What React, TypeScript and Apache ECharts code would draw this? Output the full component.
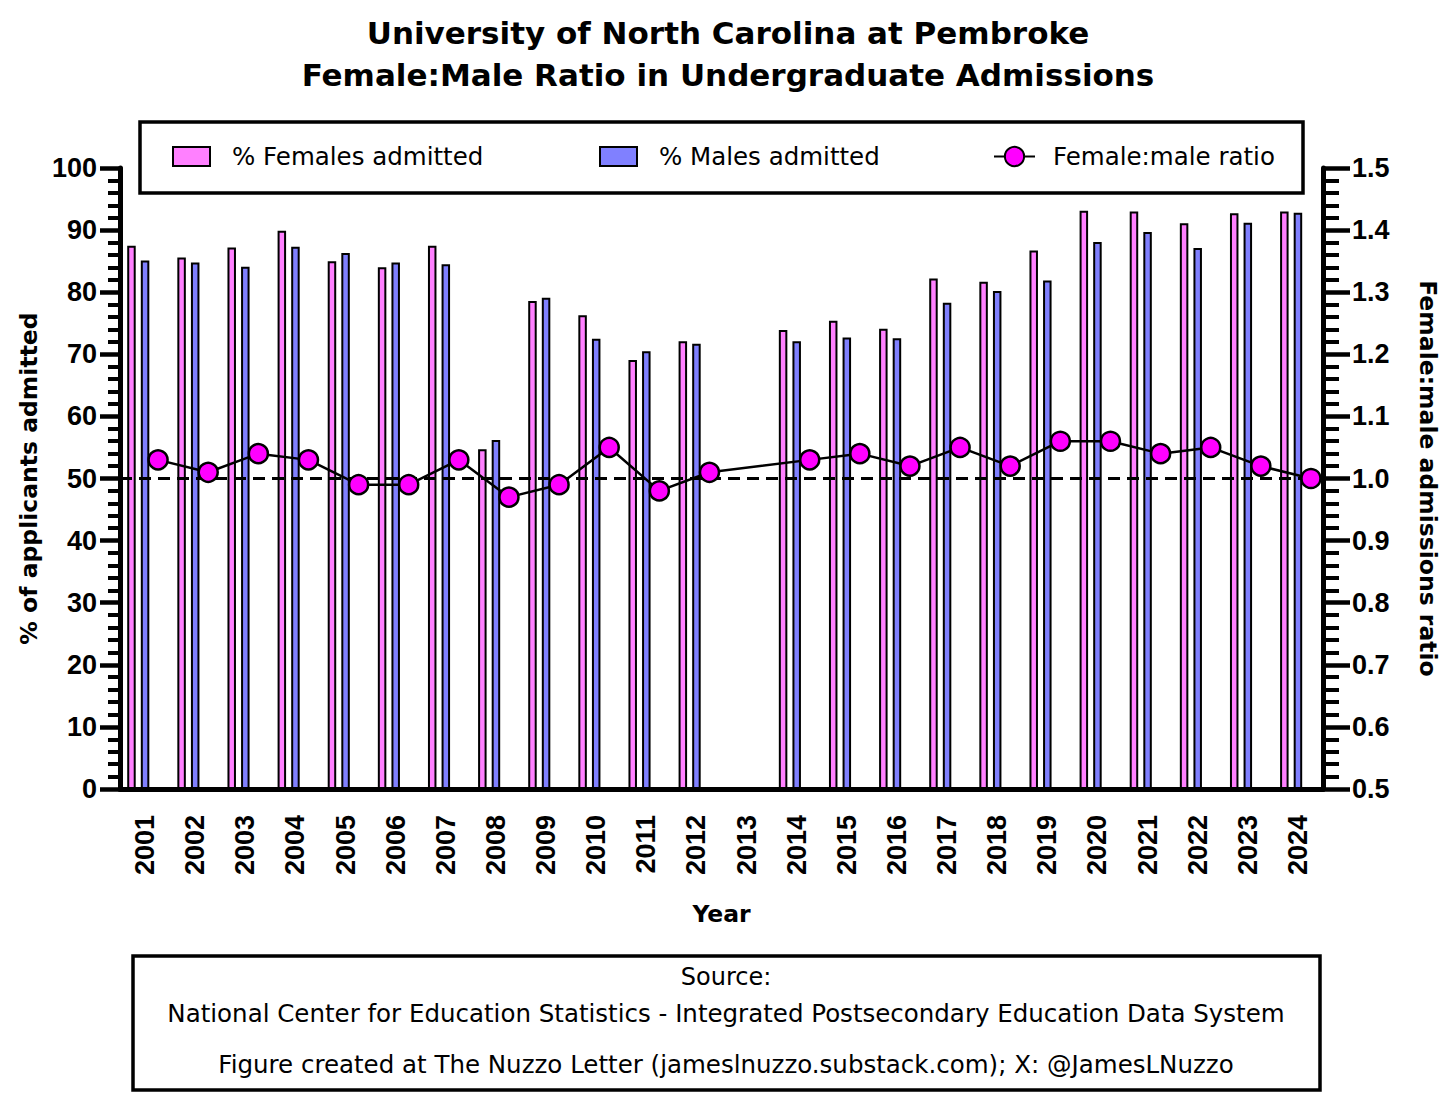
import React, { useEffect, useRef } from "react";
import * as echarts from "echarts";

const years = ["2001","2002","2003","2004","2005","2006","2007","2008","2009","2010","2011","2012","2013","2014","2015","2016","2017","2018","2019","2020","2021","2022","2023","2024"];
const femalesAdmitted = [87.5, 85.6, 87.2, 89.9, 85.0, 84.0, 87.5, 54.7, 78.6, 76.3, 69.1, 72.1, null, 73.9, 75.4, 74.1, 82.2, 81.7, 86.7, 93.1, 93.0, 91.1, 92.7, 93.0];
const malesAdmitted = [85.1, 84.8, 84.1, 87.3, 86.3, 84.8, 84.5, 56.2, 79.1, 72.5, 70.5, 71.7, null, 72.1, 72.7, 72.6, 78.3, 80.2, 81.9, 88.1, 89.7, 87.1, 91.2, 92.8];
const ratio = [1.03, 1.01, 1.04, 1.03, 0.99, 0.99, 1.03, 0.97, 0.99, 1.05, 0.98, 1.01, null, 1.03, 1.04, 1.02, 1.05, 1.02, 1.06, 1.06, 1.04, 1.05, 1.02, 1.00];
const leftTicks = { min: 0, max: 100, interval: 10 };
const rightTicks = { min: 0.5, max: 1.5, interval: 0.1 };

const NUM_FONT = "'Liberation Sans', Arial, Helvetica, sans-serif";
const TXT_FONT = "'DejaVu Sans', 'Liberation Sans', Arial, sans-serif";

export default function App() {
  const ref = useRef<HTMLDivElement>(null);
  useEffect(() => {
    document.body.style.margin = "0";
    if (!ref.current) return;
    const chart = echarts.init(ref.current, null, { renderer: "svg" });
    const POINT_OFFSET = 0.26;
    const ratioData = ratio
      .map((v, i) => (v === null ? null : [i + 0.5 + POINT_OFFSET, v]))
      .filter((d) => d !== null);

    const legendText = { fontFamily: TXT_FONT, fontSize: 24.5, color: "#000" };

    const option = {
      animation: false,
      backgroundColor: "#fff",
      textStyle: { fontFamily: TXT_FONT },
      title: {
        text: "University of North Carolina at Pembroke\nFemale:Male Ratio in Undergraduate Admissions",
        left: "center",
        top: 7,
        textStyle: { fontFamily: TXT_FONT, fontSize: 31, fontWeight: "bold", color: "#000", lineHeight: 42 },
      },
      legend: [
        {
          data: ["% Females admitted"], left: 172, top: 144, padding: 0, itemWidth: 37, itemHeight: 19,
          icon: "rect", selectedMode: false,
          textStyle: { ...legendText, padding: [0, 0, 0, 17] },
        },
        {
          data: ["% Males admitted"], left: 599, top: 144, padding: 0, itemWidth: 37, itemHeight: 19,
          icon: "rect", selectedMode: false,
          textStyle: { ...legendText, padding: [0, 0, 0, 17] },
        },
        {
          data: ["Female:male ratio"], left: 993, top: 144, padding: 0, itemWidth: 41, itemHeight: 24,
          selectedMode: false,
          textStyle: { ...legendText, padding: [0, 0, 0, 13] },
        },
      ],
      grid: { left: 120, right: 133, top: 168, bottom: 308, containLabel: false },
      xAxis: [
        {
          type: "category",
          data: years,
          name: "Year",
          nameLocation: "middle",
          nameGap: 113,
          nameTextStyle: { fontFamily: TXT_FONT, fontSize: 23.5, fontWeight: "bold", color: "#000" },
          axisLine: { lineStyle: { color: "#000", width: 5 } },
          axisTick: { alignWithLabel: true, length: 19, lineStyle: { color: "#000", width: 5 } },
          axisLabel: { interval: 0, rotate: 90, margin: 26, fontFamily: NUM_FONT, fontSize: 27, fontWeight: "bold", color: "#000" },
          splitLine: { show: false },
        },
        { type: "value", min: 0, max: years.length, show: false },
      ],
      yAxis: [
        {
          type: "value",
          min: leftTicks.min, max: leftTicks.max, interval: leftTicks.interval,
          name: "% of applicants admitted",
          nameLocation: "middle",
          nameGap: 78,
          nameTextStyle: { fontFamily: TXT_FONT, fontSize: 23.5, fontWeight: "bold", color: "#000" },
          axisLine: { show: true, lineStyle: { color: "#000", width: 5 } },
          axisTick: { show: true, length: 20, lineStyle: { color: "#000", width: 4.5 } },
          minorTick: { show: true, splitNumber: 5, length: 12, lineStyle: { color: "#000", width: 4 } },
          axisLabel: { margin: 23, fontFamily: NUM_FONT, fontSize: 27, fontWeight: "bold", color: "#000" },
          splitLine: { show: false },
        },
        {
          type: "value",
          position: "right",
          min: rightTicks.min, max: rightTicks.max, interval: rightTicks.interval,
          name: "Female:male admissions ratio",
          nameLocation: "middle",
          nameRotate: -90,
          nameGap: 93,
          nameTextStyle: { fontFamily: TXT_FONT, fontSize: 23.5, fontWeight: "bold", color: "#000" },
          axisLine: { show: true, lineStyle: { color: "#000", width: 5 } },
          axisTick: { show: true, length: 27, lineStyle: { color: "#000", width: 4.5 } },
          minorTick: { show: true, splitNumber: 5, length: 16, lineStyle: { color: "#000", width: 4 } },
          axisLabel: { margin: 29, fontFamily: NUM_FONT, fontSize: 27, fontWeight: "bold", color: "#000", formatter: (v: number) => v.toFixed(1) },
          splitLine: { show: false },
        },
      ],
      series: [
        {
          name: "% Females admitted",
          type: "bar",
          xAxisIndex: 0, yAxisIndex: 0,
          data: femalesAdmitted,
          barWidth: 8.5,
          barGap: "60%",
          itemStyle: { color: "#FF80FF", borderColor: "#000", borderWidth: 2 },
        },
        {
          name: "% Males admitted",
          type: "bar",
          xAxisIndex: 0, yAxisIndex: 0,
          data: malesAdmitted,
          barWidth: 8.5,
          barGap: "60%",
          itemStyle: { color: "#8080FF", borderColor: "#000", borderWidth: 2 },
        },
        {
          name: "slot",
          type: "bar",
          xAxisIndex: 0, yAxisIndex: 0,
          data: [],
          barWidth: 8.5,
          barGap: "60%",
        },
        {
          name: "Female:male ratio",
          type: "line",
          xAxisIndex: 1, yAxisIndex: 1,
          data: ratioData,
          z: 5,
          symbol: "circle",
          symbolSize: 19,
          lineStyle: { color: "#000", width: 2.5 },
          itemStyle: { color: "#FF00FF", borderColor: "#000", borderWidth: 2.5 },
          markLine: {
            silent: true,
            symbol: "none",
            label: { show: false },
            lineStyle: { color: "#000", width: 3, type: [12, 7] },
            data: [{ yAxis: 1.0 }],
          },
        },
      ],
      graphic: [
        {
          type: "rect", z: -1,
          shape: { x: 140, y: 122, width: 1163, height: 71 },
          style: { fill: "#fff", stroke: "#000", lineWidth: 3.5 },
        },
        {
          type: "rect", z: -1,
          shape: { x: 133, y: 956, width: 1187, height: 134 },
          style: { fill: "#fff", stroke: "#000", lineWidth: 3.5 },
        },
        {
          type: "text", x: 726, y: 977,
          style: { text: "Source:", font: `24px ${TXT_FONT}`, fill: "#000", textAlign: "center", textVerticalAlign: "middle" },
        },
        {
          type: "text", x: 726, y: 1013,
          style: { text: "National Center for Education Statistics - Integrated Postsecondary Education Data System", font: `24.5px ${TXT_FONT}`, fill: "#000", textAlign: "center", textVerticalAlign: "middle" },
        },
        {
          type: "text", x: 726, y: 1064,
          style: { text: "Figure created at The Nuzzo Letter (jameslnuzzo.substack.com); X: @JamesLNuzzo", font: `24.5px ${TXT_FONT}`, fill: "#000", textAlign: "center", textVerticalAlign: "middle" },
        },
      ],
    };
    chart.setOption(option as any);
    return () => chart.dispose();
  }, []);
  return <div ref={ref} style={{ width: 1456, height: 1097 }} />;
}
